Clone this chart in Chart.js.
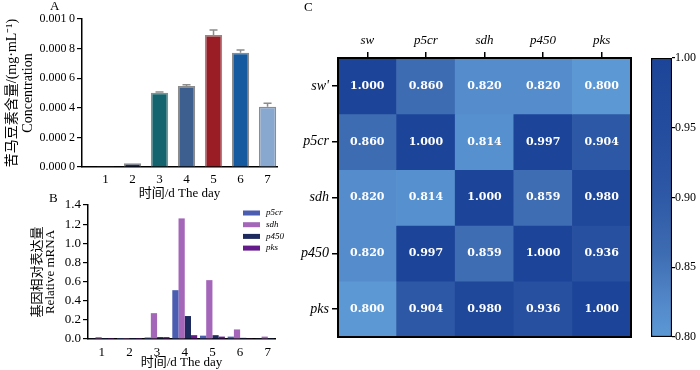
<!DOCTYPE html>
<html>
<head>
<meta charset="utf-8">
<script src="https://cdn.jsdelivr.net/npm/chart.js@4"></script>
<style>
body{margin:0;background:#fff;}
#wrap{position:relative;width:700px;height:370px;overflow:hidden;background:#fff;}
canvas{position:absolute;}
.lbl{position:absolute;font:13px 'Liberation Serif',serif;line-height:13px;color:#000;}
</style>
</head>
<body>
<div id="wrap">
  <canvas id="chartA" width="300" height="205" style="left:0;top:0"></canvas>
  <canvas id="chartB" width="300" height="175" style="left:0;top:195px"></canvas>
  <canvas id="chartC" width="340" height="370" style="left:300px;top:0"></canvas>
  <canvas id="chartD" width="60" height="370" style="left:640px;top:0"></canvas>
  <div class="lbl" style="left:50px;top:-1px">A</div>
  <div class="lbl" style="left:49px;top:191px">B</div>
  <div class="lbl" style="left:304px;top:0">C</div>
</div>
<script>
// panel A : concentration par jour
const days = [1, 2, 3, 4, 5, 6, 7];
const concentration = [0.000002, 0.000025, 0.000502, 0.000547, 0.000892, 0.000772, 0.000407];
const concentrationErr = [0, 0, 0.000005, 0.000008, 0.000034, 0.000018, 0.000023];
const concColors = ["#1c2e5c", "#1c2e5c", "#13646e", "#3d5f8f", "#9a1c25", "#155a9e", "#88a8cf"];

// panel B : expression relative
const p5cr = [0.005, 0.002, 0.016, 0.51, 0.035, 0.025, 0.005];
const sdh = [0.02, 0.01, 0.27, 1.26, 0.615, 0.10, 0.025];
const p450 = [0.002, 0.002, 0.02, 0.24, 0.04, 0.012, 0.01];
const pks = [0.002, 0.002, 0.02, 0.04, 0.025, 0.008, 0.004];

// panel C : corrélations
const rowNames = ["sw'", "p5cr", "sdh", "p450", "pks"];
const colNames = ["sw", "p5cr", "sdh", "p450", "pks"];
const corrSw = [1.000, 0.860, 0.820, 0.820, 0.800];
const corrP5cr = [0.860, 1.000, 0.814, 0.997, 0.904];
const corrSdh = [0.820, 0.814, 1.000, 0.859, 0.980];
const corrP450 = [0.820, 0.997, 0.859, 1.000, 0.936];
const corrPks = [0.800, 0.904, 0.980, 0.936, 1.000];
const scaleMin = 0.80, scaleMax = 1.00;

const serif = "'Liberation Serif', 'Noto Sans CJK SC', serif";
Chart.defaults.font.family = serif;
Chart.defaults.color = "#000";
Chart.defaults.animation = false;
Chart.defaults.plugins.legend.display = false;
Chart.defaults.plugins.tooltip.enabled = false;

const paletteStops = [
  [0.80, [92, 152, 212]],
  [0.82, [85, 140, 204]],
  [0.86, [62, 108, 178]],
  [0.90, [46, 89, 166]],
  [0.95, [36, 76, 158]],
  [1.00, [28, 68, 152]]
];
function heatColor(v) {
  let i = 0;
  while (i < paletteStops.length - 2 && v > paletteStops[i + 1][0]) i++;
  const [v0, c0] = paletteStops[i], [v1, c1] = paletteStops[i + 1];
  const t = Math.max(0, Math.min(1, (v - v0) / (v1 - v0)));
  const c = c0.map((x, k) => Math.round(x + (c1[k] - x) * t));
  return `rgb(${c[0]},${c[1]},${c[2]})`;
}

const axisTicks = { display: true, drawOnChartArea: false, drawTicks: true, tickLength: 5, color: "#000", lineWidth: 1.2 };
const noTicks = { display: true, drawOnChartArea: false, drawTicks: false };
const blackBorder = { display: true, color: "#000", width: 1.5 };

// barres d'erreur du panneau A
const errorBars = {
  id: "errorBars",
  afterDatasetsDraw(chart) {
    const ctx = chart.ctx;
    const y = chart.scales.y;
    const meta = chart.getDatasetMeta(0);
    ctx.save();
    ctx.strokeStyle = "#8c8c8c";
    ctx.lineWidth = 1.5;
    meta.data.forEach((el, i) => {
      if (!concentrationErr[i]) return;
      const top = y.getPixelForValue(concentration[i] + concentrationErr[i]);
      ctx.beginPath();
      ctx.moveTo(el.x, el.y);
      ctx.lineTo(el.x, top);
      ctx.moveTo(el.x - 4, top);
      ctx.lineTo(el.x + 4, top);
      ctx.stroke();
    });
    ctx.restore();
  }
};

new Chart(document.getElementById("chartA"), {
  type: "bar",
  data: {
    datasets: [{
      data: days.map((d, i) => ({ x: d, y: concentration[i] })),
      backgroundColor: concColors,
      borderColor: "#8c8c8c",
      borderWidth: 1.5,
      barPercentage: 0.8,
      categoryPercentage: 0.8
    }]
  },
  options: {
    responsive: false,
    devicePixelRatio: 1,
    layout: { padding: { left: 0, top: 19, right: 23, bottom: 0 } },
    scales: {
      x: {
        type: "linear", min: 0.13, max: 7.35, offset: false,
        afterBuildTicks: s => { s.ticks = days.map(d => ({ value: d })); },
        afterFit: s => { s.height = 38; },
        ticks: { padding: 5, font: { size: 13 }, callback: v => String(v) },
        grid: noTicks,
        border: blackBorder,
        title: { display: true, text: "时间/d The day", font: { size: 13 }, padding: { top: 0, bottom: 4 } }
      },
      y: {
        min: 0, max: 0.001,
        afterFit: s => { s.width = 82; },
        ticks: {
          stepSize: 0.0002, padding: 2, font: { size: 12 },
          callback: v => { const s = Number(v).toFixed(4); return s.slice(0, -1) + "\u2009" + s.slice(-1); }
        },
        grid: axisTicks,
        border: blackBorder,
        title: {
          display: true,
          text: ["苦马豆素含量/(mg·mL⁻¹)", "Concentration"],
          font: { size: 14, lineHeight: 1.1 },
          padding: { top: 5, bottom: 0 }
        }
      }
    }
  },
  plugins: [errorBars]
});

// légende du panneau B
const legendB = {
  id: "legendB",
  afterDraw(chart) {
    const ctx = chart.ctx;
    const area = chart.chartArea;
    const x0 = area.right - 32;
    ctx.save();
    ctx.font = "italic 9px " + serif;
    ctx.textBaseline = "middle";
    chart.data.datasets.forEach((ds, i) => {
      const yy = area.top + 8 + i * 11.7;
      ctx.fillStyle = ds.backgroundColor;
      ctx.fillRect(x0, yy - 2.5, 17, 5);
      ctx.fillStyle = "#000";
      ctx.fillText(ds.label, x0 + 23, yy);
    });
    ctx.restore();
  }
};

const geneSeries = [
  { label: "p5cr", values: p5cr, color: "#4a5db0" },
  { label: "sdh", values: sdh, color: "#a466b9" },
  { label: "p450", values: p450, color: "#1d2a5e" },
  { label: "pks", values: pks, color: "#651b8c" }
];

new Chart(document.getElementById("chartB"), {
  type: "bar",
  data: {
    datasets: geneSeries.map(g => ({
      label: g.label,
      data: days.map((d, i) => ({ x: d, y: g.values[i] })),
      backgroundColor: g.color,
      borderWidth: 0,
      barPercentage: 1,
      categoryPercentage: 0.9
    }))
  },
  options: {
    responsive: false,
    devicePixelRatio: 1,
    layout: { padding: { left: 0, top: 10, right: 25, bottom: 0 } },
    scales: {
      x: {
        type: "linear", min: 0.505, max: 7.26, offset: false,
        afterBuildTicks: s => { s.ticks = days.map(d => ({ value: d })); },
        afterFit: s => { s.height = 31; },
        ticks: { padding: 6, font: { size: 13 }, callback: v => String(v) },
        grid: noTicks,
        border: blackBorder,
        title: { display: true, text: "时间/d The day", font: { size: 13, lineHeight: 1.1 }, padding: { top: 0, bottom: 0 } }
      },
      y: {
        min: 0, max: 1.4,
        afterFit: s => { s.width = 88; },
        ticks: { stepSize: 0.2, padding: 2, font: { size: 13 }, callback: v => Number(v).toFixed(1) },
        grid: axisTicks,
        border: blackBorder,
        title: {
          display: true,
          text: ["基因相对表达量", "Relative mRNA"],
          font: { size: 13, lineHeight: 1.0 },
          padding: { top: 31, bottom: 0 }
        }
      }
    }
  },
  plugins: [legendB]
});

// heatmap : une pile de barres par colonne
const corrRows = [corrSw, corrP5cr, corrSdh, corrP450, corrPks];

const cellText = {
  id: "cellText",
  afterDatasetsDraw(chart) {
    const ctx = chart.ctx;
    ctx.save();
    ctx.font = "bold 11px 'DejaVu Serif', serif";
    ctx.fillStyle = "#fff";
    ctx.textAlign = "center";
    ctx.textBaseline = "middle";
    chart.data.datasets.forEach((ds, r) => {
      chart.getDatasetMeta(r).data.forEach((el, c) => {
        ctx.fillText(corrRows[r][c].toFixed(3), el.x, (el.y + el.base) / 2);
      });
    });
    ctx.restore();
  }
};

const frame = {
  id: "frame",
  afterDraw(chart) {
    const a = chart.chartArea;
    const ctx = chart.ctx;
    ctx.save();
    ctx.strokeStyle = "#000";
    ctx.lineWidth = 2;
    ctx.strokeRect(a.left, a.top, a.right - a.left, a.bottom - a.top);
    ctx.restore();
  }
};

new Chart(document.getElementById("chartC"), {
  type: "bar",
  data: {
    labels: colNames,
    datasets: rowNames.map((name, r) => ({
      label: name,
      data: colNames.map(() => 1),
      backgroundColor: corrRows[r].map(heatColor),
      borderWidth: 0,
      barPercentage: 1,
      categoryPercentage: 1
    }))
  },
  options: {
    responsive: false,
    devicePixelRatio: 1,
    layout: { padding: { left: 0, top: 0, right: 9, bottom: 33 } },
    scales: {
      x: {
        position: "top", stacked: true,
        afterFit: s => { s.height = 58; },
        ticks: { padding: 4, font: { size: 13, style: "italic" } },
        grid: { display: true, offset: false, drawOnChartArea: false, tickLength: 6, color: "#000", lineWidth: 1.5 },
        border: { display: false }
      },
      y: {
        stacked: true, reverse: true, min: 0, max: rowNames.length,
        afterBuildTicks: s => { s.ticks = rowNames.map((n, i) => ({ value: i + 0.5 })); },
        afterFit: s => { s.width = 38; },
        ticks: { padding: 3, font: { size: 14, style: "italic" }, callback: (v, i) => rowNames[i] },
        grid: { display: true, drawOnChartArea: false, tickLength: 6, color: "#000", lineWidth: 1.5 },
        border: { display: false }
      }
    }
  },
  plugins: [cellText, frame]
});

// barre de couleur
const colorbarTicks = [0.80, 0.85, 0.90, 0.95, 1.00];

new Chart(document.getElementById("chartD"), {
  type: "bar",
  data: {
    labels: [""],
    datasets: [{
      data: [[scaleMin, scaleMax]],
      backgroundColor: ctx => {
        const chart = ctx.chart;
        const y = chart.scales.y;
        const fallback = heatColor(scaleMax);
        if (!chart.chartArea || !y) return fallback;
        const y0 = y.getPixelForValue(scaleMin), y1 = y.getPixelForValue(scaleMax);
        if (!isFinite(y0) || !isFinite(y1) || y0 === y1) return fallback;
        const g = chart.ctx.createLinearGradient(0, y0, 0, y1);
        paletteStops.forEach(([v]) => g.addColorStop((v - scaleMin) / (scaleMax - scaleMin), heatColor(v)));
        return g;
      },
      borderColor: "#000",
      borderWidth: 1.5,
      borderSkipped: false,
      barPercentage: 1,
      categoryPercentage: 1
    }]
  },
  options: {
    responsive: false,
    devicePixelRatio: 1,
    layout: { padding: { left: 11, top: 58, right: 0, bottom: 33 } },
    scales: {
      x: { display: false },
      y: {
        position: "right", min: scaleMin, max: scaleMax,
        afterBuildTicks: s => { s.ticks = colorbarTicks.map(v => ({ value: v })); },
        afterFit: s => { s.width = 28; },
        ticks: { padding: 0, font: { size: 12 }, callback: v => Number(v).toFixed(2) },
        grid: { display: true, drawOnChartArea: false, tickLength: 3, color: "#000", lineWidth: 1.2 },
        border: { display: false }
      }
    }
  }
});
</script>
</body>
</html>
